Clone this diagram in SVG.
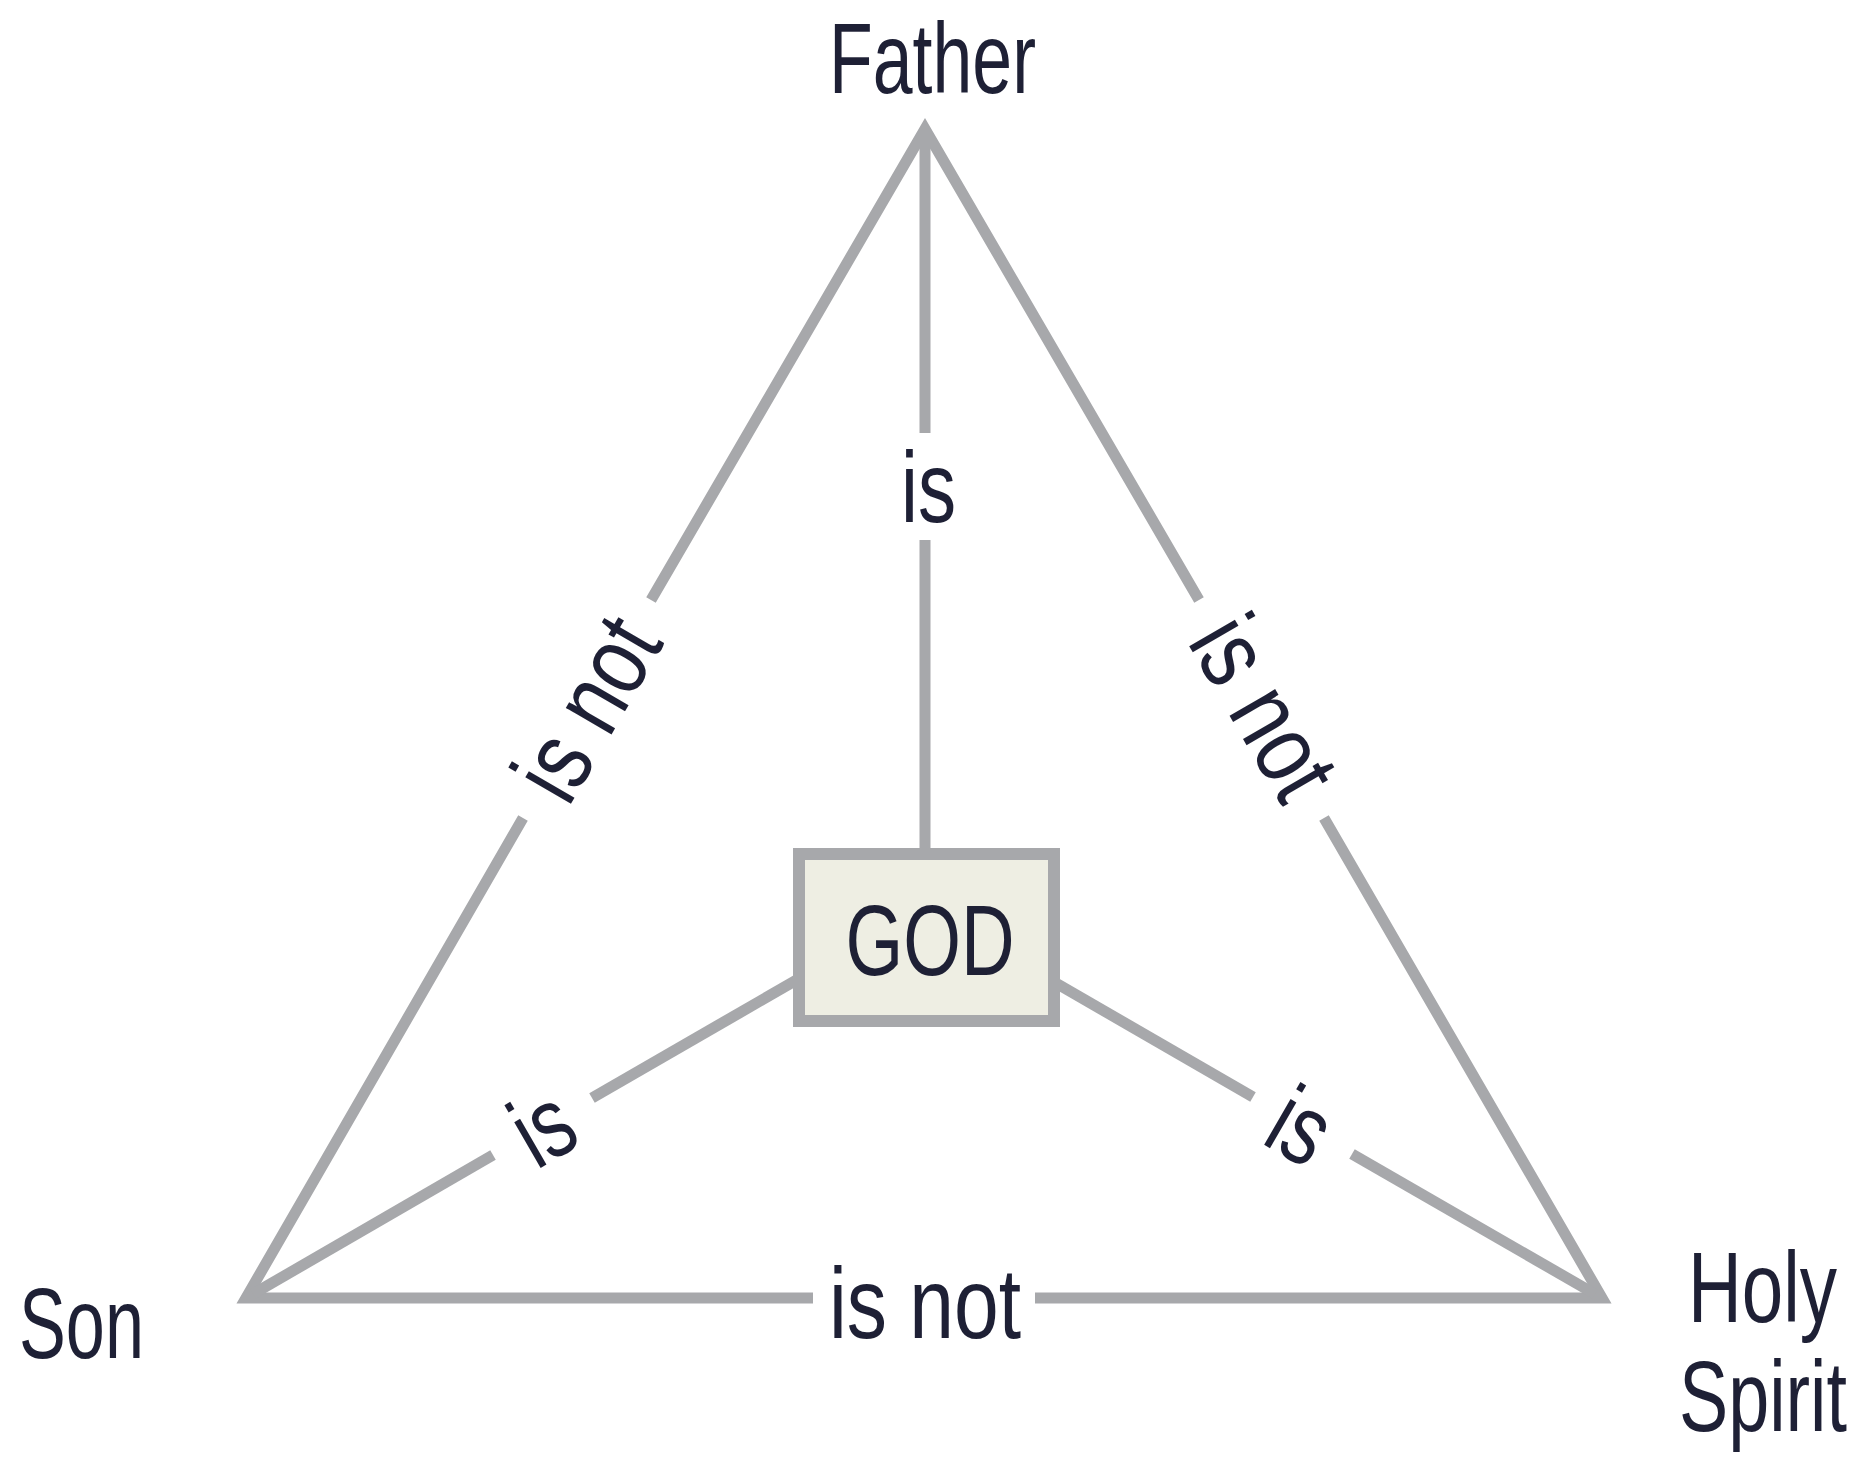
<svg xmlns="http://www.w3.org/2000/svg" width="1863" height="1459" viewBox="0 0 1863 1459">
<style>
.ln{fill:none;stroke:#a7a8ab;stroke-width:11;stroke-linejoin:miter;stroke-miterlimit:10;stroke-linecap:butt}
.t{font-family:"Liberation Sans",Arial,sans-serif;font-size:100px;fill:#1e2035;text-anchor:middle}
.e{text-anchor:end}
.box{fill:#eeeee3;stroke:#a7a8ab;stroke-width:12}
</style>
<rect width="1863" height="1459" fill="#ffffff"/>
<g id="connectors">
<polyline class="ln" points="651,600 925,129 1199,600"/>
<polyline class="ln" points="523,818 246,1298 813,1298"/>
<polyline class="ln" points="1035,1298 1602,1298 1324,818"/>
<line class="ln" x1="925" y1="135" x2="925" y2="433"/>
<line class="ln" x1="925" y1="540" x2="925" y2="856"/>
<polyline class="ln" points="253,1294 493,1155"/>
<polyline class="ln" points="592,1098 800,978"/>
<polyline class="ln" points="1595,1294 1352,1154"/>
<polyline class="ln" points="1253,1097 1054,982"/>
</g>
<g id="label-father-god"><text class="t" x="928.5" y="522" textLength="55" lengthAdjust="spacingAndGlyphs">is</text></g>
<g id="label-son-god" transform="translate(542.5,1126.5) rotate(-30)"><text class="t" x="0" y="35" textLength="55" lengthAdjust="spacingAndGlyphs">is</text></g>
<g id="label-spirit-god" transform="translate(1302.5,1123) rotate(30)"><text class="t" x="0" y="38" textLength="55" lengthAdjust="spacingAndGlyphs">is</text></g>
<g id="label-father-son" transform="translate(588,709) rotate(-59.8)"><text class="t" x="0" y="33" textLength="192" lengthAdjust="spacingAndGlyphs">is not</text></g>
<g id="label-father-spirit" transform="translate(1261.5,709) rotate(59.9)"><text class="t" x="0" y="31" textLength="192" lengthAdjust="spacingAndGlyphs">is not</text></g>
<g id="label-son-spirit"><text class="t" x="925" y="1338" textLength="192" lengthAdjust="spacingAndGlyphs">is not</text></g>
<g id="node-god">
<rect class="box" x="799" y="854" width="255" height="167"/>
<text class="t" x="930" y="975" textLength="169" lengthAdjust="spacingAndGlyphs">GOD</text>
</g>
<g id="node-father"><text class="t" x="932.5" y="93" textLength="207" lengthAdjust="spacingAndGlyphs">Father</text></g>
<g id="node-son"><text class="t" x="81.5" y="1358" textLength="125" lengthAdjust="spacingAndGlyphs">Son</text></g>
<g id="node-spirit">
<text class="t e" x="1837" y="1322" textLength="149" lengthAdjust="spacingAndGlyphs">Holy</text>
<text class="t e" x="1847" y="1431" textLength="168" lengthAdjust="spacingAndGlyphs">Spirit</text>
</g>
</svg>
